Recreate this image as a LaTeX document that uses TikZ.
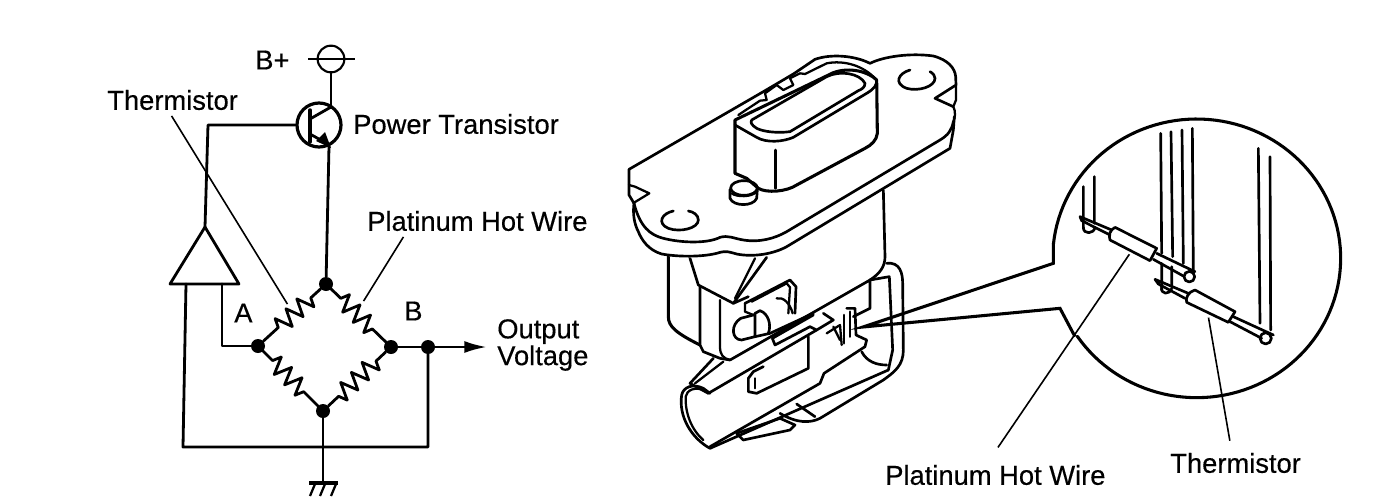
\documentclass[tikz,border=0pt]{standalone}
\usepackage{fontspec}
\setmainfont{Liberation Sans}[FakeBold=0.4]
\usetikzlibrary{decorations.pathmorphing,arrows.meta}
\tikzset{
  lab/.style={inner sep=0pt,anchor=west,align=left,font=\fontsize{20.5}{18}\selectfont,text=black},
  dotn/.style={circle,fill=black,draw=none,minimum size=10.5pt,inner sep=0pt},
  wire/.style={line width=2.1pt,line cap=round,line join=round},
  res/.style={wire,decorate,decoration={zigzag,segment length=11pt,amplitude=6.5pt,pre length=10pt,post length=10pt}},
  dev/.style={line width=1.7pt,line cap=round,line join=round},
  det/.style={line width=2pt,line cap=round,line join=round}
}
\begin{document}
\begin{tikzpicture}[x=.75pt,y=-.75pt]
\useasboundingbox[fill=white] (0,0) rectangle (1392,500);
% labels
\node[lab] (bplus) at (255,60) {B+};
\node[lab] (pt) at (353,124) {Power Transistor};
\node[lab] (th1) at (107,100) {Thermistor};
\node[lab] (ph1) at (367,221) {Platinum Hot Wire};
\node[lab] (la) at (234,313) {A};
\node[lab] (lb) at (404,311) {B};
\node[lab] (ov) at (497,345) {Output\\Voltage};
\node[lab] (ph2) at (885,475) {Platinum Hot Wire};
\node[lab] (th2) at (1170,463) {Thermistor};
% circuit nodes
\node[dotn] (top) at (326,284) {};
\node[dotn] (ptA) at (258,346) {};
\node[dotn] (ptB) at (391,347) {};
\node[dotn] (bot) at (323,411) {};
\node[dotn] (jun) at (428,347) {};
\coordinate (supply) at (331,59);
\coordinate (apex) at (205,227);
\coordinate (triL) at (170,284);
\coordinate (triR) at (239,284);
\coordinate (gnd) at (323,483);
\coordinate (out) at (487,347);
% supply
\node[draw,circle,line width=1.6pt,minimum size=20pt,inner sep=0pt] (bp) at (supply) {};
\draw[line width=1.1pt] (308,59) -- (bp.west) (bp.west) -- (bp.east) (bp.east) -- (355,59);
\node[draw,circle,line width=2.4pt,minimum size=33pt,inner sep=0pt] (tr) at (319,125) {};
\draw[wire] (bp.south) -- (331,106);
\draw[line width=2.6pt,line cap=round] (310,110) -- (310,142);
\draw[wire] (310,119) -- (331,107);
\draw[wire] (310,134) -- (326,143);
\fill (331,148) -- (316,141) -- (325,132) -- cycle;
\draw[wire] (tr.west) -- (208,125) -- (apex);
\draw[wire] (329,146) -- (top);
% amplifier
\draw[wire] (apex) -- (triL) -- (triR) -- cycle;
\draw[wire] (222,284) -- (222,346) -- (ptA);
\draw[wire] (186,284) -- (183,447) -- (428,447) -- (jun);
% bridge
\draw[res] (top) -- (ptA);
\draw[res] (top) -- (ptB);
\draw[res] (ptA) -- (bot);
\draw[res] (ptB) -- (bot);
\draw[wire] (ptB) -- (jun);
\draw[wire,-{Latex[length=17pt,width=9pt]}] (jun) -- (out);
\draw[wire] (bot) -- (gnd);
\draw[line width=2.4pt] (309,483) -- (338,483);
\draw[line width=1.7pt] (315,484) -- (310,496) (325,484) -- (320,496) (336,484) -- (331,496);
% leaders
\node[inner sep=0pt] (l1a) at (171,115) {};
\node[inner sep=0pt] (l1b) at (288,305) {};
\draw[line width=1.2pt] (l1a) -- (l1b);
\node[inner sep=0pt] (l2a) at (404,236) {};
\node[inner sep=0pt] (l2b) at (363,302) {};
\draw[line width=1.2pt] (l2a) -- (l2b);

% device, coordinates of a 3x view
\begin{scope}[shift={(620,50)},x=.25pt,y=-.25pt]
% plate top
\draw[det] (42,460) -- (27,435) -- (27,358) -- (430,125) -- (520,72) -- (585,28)
  .. controls (630,12) and (700,15) .. (750,40)
  .. controls (790,20) and (870,8) .. (940,18)
  .. controls (985,30) and (1005,55) .. (1007,80) -- (1008,105) -- (945,145) -- (1000,170);
\draw[dev] (27,405) -- (45,410) -- (88,430) -- (42,458);
\draw[dev] (1008,105) -- (1008,150) -- (1000,170) .. controls (1008,185) and (1005,205) .. (1000,215);
\draw[det] (1000,215) .. controls (995,240) and (985,255) .. (960,270) -- (500,545)
  .. controls (465,565) and (420,578) .. (370,570) .. controls (340,565) and (325,555) .. (300,562)
  .. controls (265,580) and (190,580) .. (130,565) .. controls (90,555) and (60,530) .. (42,460);
\draw[det] (1003,200) -- (1000,240) -- (990,295) -- (500,590)
  .. controls (460,612) and (400,622) .. (350,612) .. controls (330,607) and (320,600) .. (290,610)
  .. controls (240,622) and (170,620) .. (125,612) .. controls (85,600) and (65,570) .. (55,545) .. controls (42,520) and (38,490) .. (42,460);
% holes
\draw[det] (160,483) .. controls (125,490) and (110,520) .. (145,535) .. controls (180,548) and (235,535) .. (235,510) .. controls (235,495) and (220,485) .. (205,483);
\draw[det] (870,60) .. controls (835,70) and (820,100) .. (860,115) .. controls (895,125) and (945,110) .. (945,85) .. controls (945,78) and (940,70) .. (930,65);
% ridge behind connector
\draw[dev] (355,195) -- (420,152) -- (440,150) -- (435,130) -- (470,105) -- (490,120) -- (520,105) -- (510,85) -- (540,70) -- (555,72) -- (620,40) .. controls (670,30) and (730,45) .. (770,90);
% connector
\draw[line width=2.3pt,line join=round] (345,210) -- (640,68) .. controls (690,50) and (745,65) .. (770,90) -- (772,250)
  .. controls (770,270) and (755,285) .. (735,295) -- (530,405) .. controls (500,425) and (440,430) .. (415,415) -- (380,385) -- (345,370) -- cycle;
\draw[det] (345,225) -- (410,262) .. controls (440,280) and (490,275) .. (520,262) -- (740,130) .. controls (765,115) and (770,105) .. (770,90);
\draw[det] (395,210) -- (620,80) .. controls (660,60) and (720,70) .. (735,100) .. controls (735,112) and (725,118) .. (715,122) -- (510,245) .. controls (470,250) and (430,245) .. (410,235) .. controls (395,225) and (390,218) .. (395,210);
\draw[det] (467,300) -- (467,415);
% peg
\draw[det] (372,414) ellipse [x radius=40,y radius=22];
\draw[det] (330,418) -- (330,445) .. controls (340,470) and (400,470) .. (410,445) -- (412,418);
\draw[dev] (335,430) .. controls (350,442) and (395,442) .. (410,425);
% body
\draw[det] (790,420) -- (795,620) .. controls (795,650) and (780,670) .. (750,690);
\draw[line width=2.3pt,line cap=round] (145,620) -- (145,800) .. controls (145,830) and (170,850) .. (240,885);
\draw[det] (210,625) -- (235,705) -- (340,760) -- (440,622);
\draw[dev] (405,625) -- (345,745);
\draw[det] (240,710) -- (240,885) -- (250,905) -- (300,925) -- (330,930);
\draw[dev] (300,750) -- (300,890) .. controls (300,915) and (310,925) .. (330,930);
\draw[det] (330,930) -- (610,770);
\draw[det] (340,760) -- (385,740);
% clip
\draw[det] (375,760) -- (510,690) -- (528,710) -- (525,790);
\draw[dev] (375,760) -- (375,785) -- (400,795);
\draw[dev] (395,755) -- (500,700) -- (510,712) -- (505,790);
\draw[dev] (470,745) .. controls (490,740) and (510,760) .. (518,790);
\draw[det] (400,795) -- (362,805) .. controls (330,825) and (335,870) .. (365,870) -- (405,860) -- (405,790) -- (420,782);
\draw[det] (420,782) .. controls (445,790) and (455,825) .. (445,850);
\draw[det] (405,860) -- (450,850) -- (580,790);
% inner assembly
\draw[det] (610,770) -- (750,690) -- (750,775) -- (700,800);
\draw[det] (750,690) -- (808,680) -- (818,900) -- (805,960);
\draw[det] (800,640) .. controls (840,635) and (848,670) .. (848,700) -- (850,900)
  .. controls (850,945) and (825,965) .. (790,990) -- (600,1105) .. controls (570,1120) and (530,1120) .. (480,1090);
\draw[det] (530,1062) -- (585,1100);
\draw[det] (680,775) -- (705,775) -- (708,855) -- (740,870) -- (735,890) -- (612,970) -- (600,1000) -- (270,1190);
\draw[det] (672,795) -- (672,880) (690,785) -- (690,860);
\draw[det] (610,790) -- (640,810) -- (590,840) -- (570,830) -- (465,885) -- (457,865) -- (580,795);
\draw[dev] (620,850) -- (660,825) -- (665,885);
\draw[dev] (640,830) -- (660,870);
\draw[det] (590,840) -- (265,1030) -- (210,1000) -- (280,925);
\draw[dev] (225,1000) -- (310,935);
\draw[det] (270,1030) -- (250,1015) .. controls (220,1000) and (190,1010) .. (185,1035) .. controls (175,1100) and (215,1165) .. (270,1195) -- (805,960);
\draw[dev] (250,1020) .. controls (225,1010) and (200,1020) .. (197,1040) .. controls (195,1090) and (215,1140) .. (250,1170);
% windows
\draw[det] (565,860) -- (565,955) -- (410,1030) -- (385,1025) -- (385,985) -- (400,965) -- (430,950);
\draw[dev] (405,985) -- (405,1015);
\draw[det] (350,1150) -- (480,1105) -- (525,1125) -- (510,1140) -- (370,1170) -- (350,1150);
\draw[det] (725,905) .. controls (740,935) and (770,945) .. (800,945);
\end{scope}

% detail view
\begin{scope}[shift={(1000,120)},x=.25pt,y=-.25pt]
\coordinate (tip) at (-411,621);
\coordinate (w1) at (160,370);
\coordinate (w2) at (160,430);
\coordinate (w3) at (180,565);
\coordinate (w4) at (225,650);
\draw[line width=2.3pt,line cap=round,line join=round] plot[domain=186:506,samples=120] ({590+432*cos(\x)},{415+418*sin(\x)});
\draw[line width=2.3pt,line join=miter] (w1) -- (w2) -- (tip) -- (w3) -- (w4);
% wires
\draw[det] (250,200) -- (250,325) (283,170) -- (283,310)
  (482,40) -- (485,400) (513,35) -- (518,410) (546,30) -- (550,430) (577,25) -- (580,460)
  (485,430) -- (485,510) (515,440) -- (515,500)
  (775,85) -- (780,610) (810,110) -- (812,630);
\draw[det] (250,322) .. controls (250,345) and (282,342) .. (285,322);
% sensor one
\draw[det] (240,290) -- (335,330) (240,290) -- (245,302) -- (330,345);
\draw[det] (345,322) -- (470,385) -- (450,422) -- (330,360) .. controls (325,345) and (330,330) .. (345,322);
\draw[det] (470,400) -- (585,455) (460,418) -- (550,468);
\draw[det] (568,470) circle [radius=16];
% sensor two
\draw[det] (465,478) -- (565,520) (465,478) -- (475,492) -- (555,535);
\draw[det] (585,510) -- (705,575) -- (685,607) -- (560,547) .. controls (555,535) and (565,515) .. (585,510);
\draw[det] (700,590) -- (820,645) (690,605) -- (785,655);
\draw[det] (797,655) circle [radius=17];
\draw[det] (485,500) .. controls (480,525) and (510,525) .. (515,505);
% leaders
\node[inner sep=0pt] (l3a) at (390,400) {};
\node[inner sep=0pt] (l3b) at (-8,985) {};
\draw[line width=1.2pt] (l3a) -- (l3b);
\node[inner sep=0pt] (l4a) at (625,590) {};
\node[inner sep=0pt] (l4b) at (690,965) {};
\draw[line width=1.2pt] (l4a) -- (l4b);
\end{scope}
\end{tikzpicture}
\end{document}
